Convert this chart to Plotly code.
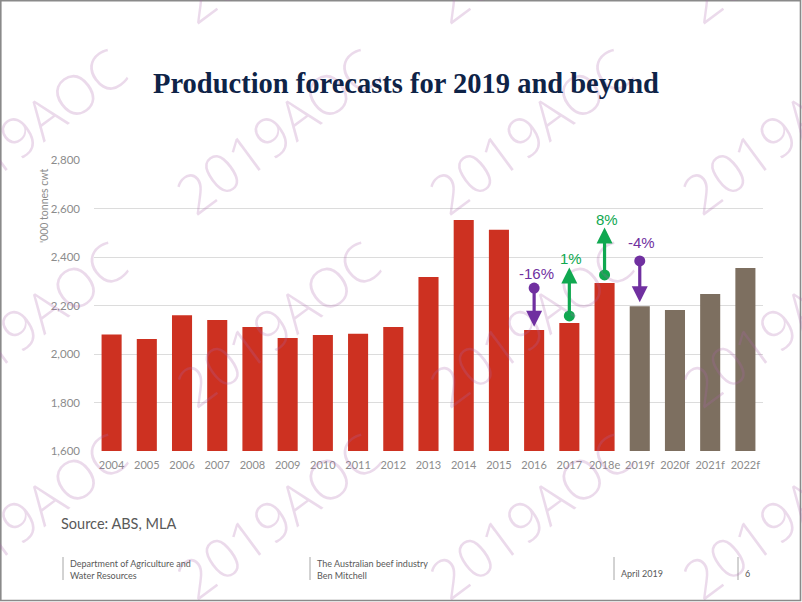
import plotly.graph_objects as go

# ---------------- data ----------------
years = ["2004", "2005", "2006", "2007", "2008", "2009", "2010", "2011", "2012",
         "2013", "2014", "2015", "2016", "2017", "2018e", "2019f", "2020f", "2021f", "2022f"]
production = [2080, 2062, 2160, 2140, 2111, 2066, 2078, 2083, 2111,
              2318, 2553, 2512, 2099, 2128, 2293, 2197, 2181, 2247, 2355]
is_forecast = [False] * 15 + [True] * 4

# change arrows (category, start value, end value, label, label value, kind)
arrow_cats = ["2016", "2017", "2018e", "2019f"]
arrow_start = [2272, 2157, 2326, 2384]
arrow_end = [2112, 2357, 2522, 2213]
arrow_labels = ["-16%", "1%", "8%", "-4%"]
arrow_label_y = [2334, 2392, 2553, 2458]
arrow_up = [False, True, True, False]

y_ticks = [1600, 1800, 2000, 2200, 2400, 2600, 2800]
y_ticktext = ["1,600", "1,800", "2,000", "2,200", "2,400", "2,600", "2,800"]

# ---------------- styling ----------------
RED = "#CD3121"
BROWN = "#7D6F60"
PURPLE = "#7030A0"
GREEN = "#10A850"
W, H = 802, 602
L, R, T, B = 94, 763, 160, 451
PW, PH = R - L, B - T


def px(xp):
    return (xp - L) / PW


def py(yp):
    return (B - yp) / PH


fig = go.Figure()
fig.add_trace(go.Bar(
    x=years, y=[v - 1600 for v in production], base=1600,
    marker=dict(color=[BROWN if f else RED for f in is_forecast], line=dict(width=0)),
    hoverinfo="skip", showlegend=False,
))

annotations = []
shapes = []

# watermark (drawn first so other text sits above it)
for cx in [24, 277, 530, 783]:
    for cy in [-61, 131, 323, 515]:
        annotations.append(dict(
            x=px(cx), y=py(cy), xref="paper", yref="paper", text="2019AOC",
            textangle=-36.5, showarrow=False,
            font=dict(family="Open Sans, Noto Sans", size=55, weight=300,
                      color="rgba(170,100,170,0.24)"),
            xanchor="center", yanchor="middle"))

# arrows
for cat, s, e, lab, ly, up in zip(arrow_cats, arrow_start, arrow_end, arrow_labels, arrow_label_y, arrow_up):
    col = GREEN if up else PURPLE
    idx = years.index(cat)
    annotations.append(dict(
        x=idx, y=e, ax=idx, ay=s, xref="x", yref="y", axref="x", ayref="y",
        showarrow=True, arrowhead=2, arrowsize=1.0, arrowwidth=3.2, arrowcolor=col,
        standoff=0, startstandoff=0, text=""))
    annotations.append(dict(
        x=idx, y=ly, xref="x", yref="y", text=lab, showarrow=False,
        font=dict(family="Liberation Sans, Arial", size=15, color=col),
        xanchor="center", yanchor="middle", xshift=2))
    fig.add_trace(go.Scatter(
        x=[cat], y=[s], mode="markers",
        marker=dict(color=col, size=11, line=dict(width=0)),
        hoverinfo="skip", showlegend=False))

# title
annotations.append(dict(
    x=px(406), y=py(83), xref="paper", yref="paper",
    text="<b>Production forecasts for 2019 and beyond</b>", showarrow=False,
    font=dict(family="Liberation Serif, DejaVu Serif", size=28.5, color="#0E2347"),
    xanchor="center", yanchor="middle"))

# y axis title
annotations.append(dict(
    x=px(44), y=py(206), xref="paper", yref="paper", text="'000 tonnes cwt",
    textangle=-90, showarrow=False,
    font=dict(family="Lato, Open Sans", size=10.5, color="#8C8C8C"),
    xanchor="center", yanchor="middle"))

# source
annotations.append(dict(
    x=px(59), y=py(523), xref="paper", yref="paper", text="Source: ABS, MLA",
    showarrow=False, font=dict(family="Lato, Open Sans", size=14.5, color="#595959"),
    xanchor="left", yanchor="middle"))

# footer
footer = [
    (63, "Department of Agriculture and<br>Water Resources", 569),
    (310, "The Australian beef industry<br>Ben Mitchell", 569),
    (614, "April 2019", 573),
    (738, "6", 573),
]
for xline, txt, ty in footer:
    annotations.append(dict(
        x=px(xline + 5), y=py(ty), xref="paper", yref="paper", text=txt,
        showarrow=False, align="left",
        font=dict(family="Lato, Open Sans", size=9, color="#595959"),
        xanchor="left", yanchor="middle"))
    shapes.append(dict(type="line", xref="paper", yref="paper",
                       x0=px(xline), x1=px(xline), y0=py(557), y1=py(580),
                       line=dict(color="#A6A6A6", width=1)))

# slide border
shapes.append(dict(type="rect", xref="paper", yref="paper",
                   x0=px(0.8), x1=px(800.5), y0=py(0.8), y1=py(600.5),
                   line=dict(color="#8A8A8A", width=1.6), fillcolor="rgba(0,0,0,0)"))

fig.update_layout(
    width=W, height=H,
    margin=dict(l=L, r=W - R, t=T, b=H - B, pad=0),
    paper_bgcolor="white", plot_bgcolor="white",
    bargap=0.43,
    showlegend=False,
    annotations=annotations,
    shapes=shapes,
    xaxis=dict(
        type="category", showgrid=False, zeroline=False, showline=False, ticks="",
        tickfont=dict(family="Lato, Open Sans", size=11, color="#8C8C8C"),
        ticklabelstandoff=6,
        range=[-0.5, len(years) - 0.5], fixedrange=True,
    ),
    yaxis=dict(
        range=[1600, 2800], tickvals=y_ticks, ticktext=y_ticktext,
        showgrid=True, gridcolor="#DCDCDC", gridwidth=1, zeroline=False, showline=False,
        ticks="", ticklabelstandoff=13,
        tickfont=dict(family="Lato, Open Sans", size=11.5, color="#8C8C8C"),
        fixedrange=True,
    ),
)

fig.write_html(
    "out.html",
    config={"displayModeBar": False},
    post_script="document.body.style.margin='0';document.body.style.overflow='hidden';",
)
